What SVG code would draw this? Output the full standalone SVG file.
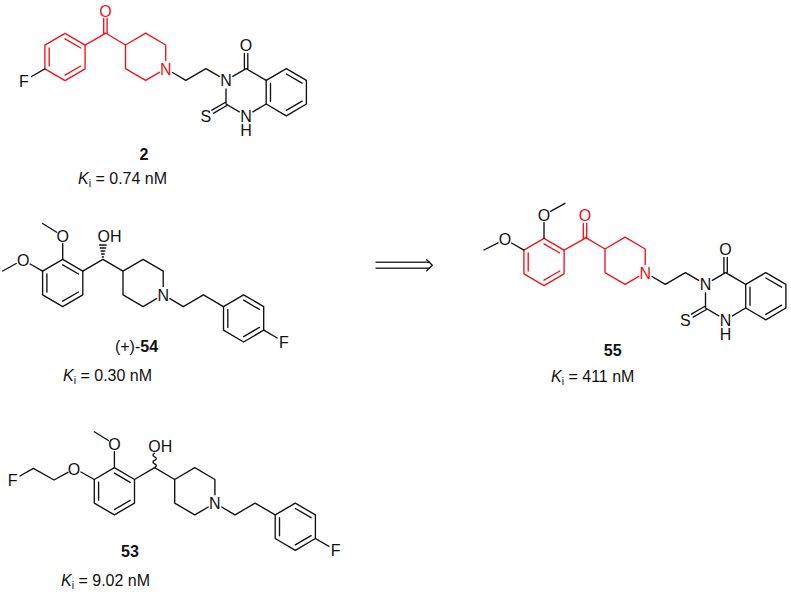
<svg xmlns="http://www.w3.org/2000/svg" width="791" height="594" viewBox="0 0 791 594">
<style>
text{font-family:"Liberation Sans",Arial,sans-serif;font-size:16px;fill:#111;text-anchor:middle}
.b{fill:none;stroke:#111;stroke-width:1.35;stroke-linejoin:round;stroke-linecap:round}
.r{fill:none;stroke:#f5101a;stroke-width:1.35;stroke-linejoin:round;stroke-linecap:round}
text.rt{fill:#f5101a}
text.k{text-anchor:start}
text.n{font-weight:bold}
text.st{text-anchor:start}
tspan.i{font-style:italic}
tspan.s{font-size:10.5px}
tspan.w{font-weight:bold}
</style>
<defs>
<path id="ring" d="M0-23.6L20.1-11.8V11.8L0 23.6L-20.1 11.8V-11.8ZM-15.8-9V9M0-18.2L15.8-9M15.8 9L0 18.2"/>
</defs>
<rect width="791" height="594" fill="#fff"/>

<g id="compound-2">
<g class="r" transform="translate(65 57)"><use href="#ring"/><path d="M20.1-11.8L40.4-23.6M38.7-23.6V-38.5M42.1-23.6V-38.5"/></g>
<path class="b" d="M44.9 68.8L31.5 76.5"/>
<g transform="translate(125.5 45)">
<path class="r" d="M-20-12L0 0L20.1-11.8L40.2 0V15.5M33.8 27.3L20.1 35.4L0 23.6V0"/>
<path class="b" d="M47 27.5L60.3 35.4L80.4 23.6L93.7 31.3M107.3 31.3L120.6 23.6L140.7 35.4M100.5 44V59M100.5 59L113.8 66.8M127.4 66.8L140.7 59M118.9 23.6V8.5M122.3 23.6V8.5M99.6 57.5L86.4 65.2M101.4 60.5L88.2 68.2"/>
<use class="b" href="#ring" x="160.8" y="47.2"/>
<text class="rt" x="40.2" y="29.5">N</text>
<text x="100.5" y="41">N</text>
<text x="120.6" y="6">O</text>
<text><tspan x="120.6" y="76.5">N</tspan><tspan x="120.6" y="90.5">H</tspan></text>
<text x="80.3" y="76.7">S</text>
</g>
<text x="24" y="87">F</text>
<text class="rt" x="105.5" y="16.7">O</text>
<text class="n" x="144" y="160">2</text>
<text class="k" x="78" y="184"><tspan class="i">K</tspan><tspan class="s" dy="3">i</tspan><tspan dy="-3"> = 0.74 nM</tspan></text>
</g>

<g id="compound-54">
<g transform="translate(62.7 283)">
<g class="b">
<use href="#ring"/>
<path d="M20.1-11.8L40.2-23.6L60.3-11.8L80.4-23.6L100.5-11.8V3.5M93.8 15.7L80.4 23.6L60.3 11.8V-11.8M107.2 15.7L120.6 23.6L140.7 11.8L160.8 23.6M201 47.2L214.5 55"/>
<use href="#ring" x="180.9" y="35.4"/>
<path d="M0-23.6V-39.5M-6-50.8L-20.1-59.5M-20.1-11.8L-32.5-19M-46.5-19.5L-60-12"/>
<path d="M39.6-26H40.8M38.9-29H41.5M38.3-32H42.1M37.6-35H42.8M37-38H43.4"/>
</g>
<text x="100.5" y="17.5">N</text>
<text x="0" y="-41.5">O</text>
<text x="-39.4" y="-17.3">O</text>
<text class="st" x="34.8" y="-41">OH</text>
<text x="221.3" y="64.5">F</text>
</g>
<text x="136.5" y="351.7">(+)-<tspan class="w">54</tspan></text>
<text class="k" x="63" y="381"><tspan class="i">K</tspan><tspan class="s" dy="3">i</tspan><tspan dy="-3"> = 0.30 nM</tspan></text>
</g>

<g id="compound-53">
<g transform="translate(114.4 491.3)">
<g class="b">
<use href="#ring"/>
<path d="M20.1-11.8L40.2-23.6L60.3-11.8L80.4-23.6L100.5-11.8V3.5M93.8 15.7L80.4 23.6L60.3 11.8V-11.8M107.2 15.7L120.6 23.6L140.7 11.8L160.8 23.6M201 47.2L214.5 55"/>
<use href="#ring" x="180.9" y="35.4"/>
<path d="M0-23.6V-39.5M-6-50.8L-20.1-59.5M-20.1-11.8L-33.5-19.3M-46.5-19L-60.4-11.3L-81-23L-94.5-15.3"/>
<path d="M40.2-23.6C42.5-25 42.5-26.5 40.2-27.5S38-30 40.2-31S42.5-33.5 40.2-34.5S38-37 40.2-38"/>
</g>
<text x="100.5" y="17.5">N</text>
<text x="0" y="-41.5">O</text>
<text x="-40.4" y="-16.5">O</text>
<text x="-101.7" y="-5">F</text>
<text class="st" x="33.8" y="-39.6">OH</text>
<text x="221.3" y="64.5">F</text>
</g>
<text class="n" x="130" y="556.7">53</text>
<text class="k" x="61" y="586"><tspan class="i">K</tspan><tspan class="s" dy="3">i</tspan><tspan dy="-3"> = 9.02 nM</tspan></text>
</g>

<g id="arrow">
<path class="b" style="stroke:#333;stroke-width:1.5;stroke-linecap:butt" d="M375.5 262.2H430M375.5 268.2H430"/>
<path class="b" d="M426.7 259.8L432.3 265.2L426.7 270.7"/>
</g>

<g id="compound-55">
<g class="r" transform="translate(544 262)"><use href="#ring"/><path d="M20.1-11.8L41-23.6M39.3-23.6V-38.5M42.7-23.6V-38.5"/></g>
<path class="b" d="M544 238.4V222.5M550.5 211.3L565 203.3M523.9 250.2L511.5 243M498 242.8L484 250"/>
<g transform="translate(605 249)">
<path class="r" d="M-20-11.8L0 0L20.1-11.8L40.2 0V15.5M33.8 27.3L20.1 35.4L0 23.6V0"/>
<path class="b" d="M47 27.5L60.3 35.4L80.4 23.6L93.7 31.3M107.3 31.3L120.6 23.6L140.7 35.4M100.5 44V59M100.5 59L113.8 66.8M127.4 66.8L140.7 59M118.9 23.6V8.5M122.3 23.6V8.5M99.6 57.5L86.4 65.2M101.4 60.5L88.2 68.2"/>
<use class="b" href="#ring" x="160.8" y="47.2"/>
<text class="rt" x="40.2" y="29.5">N</text>
<text x="100.5" y="41">N</text>
<text x="120.6" y="6">O</text>
<text><tspan x="120.6" y="76.5">N</tspan><tspan x="120.6" y="90.5">H</tspan></text>
<text x="80.3" y="76.7">S</text>
</g>
<text x="544" y="220.7">O</text>
<text x="505" y="245">O</text>
<text class="rt" x="585" y="220.7">O</text>
<text class="n" x="612.7" y="355.7">55</text>
<text class="k" x="551" y="381.7"><tspan class="i">K</tspan><tspan class="s" dy="3">i</tspan><tspan dy="-3"> = 411 nM</tspan></text>
</g>
</svg>
